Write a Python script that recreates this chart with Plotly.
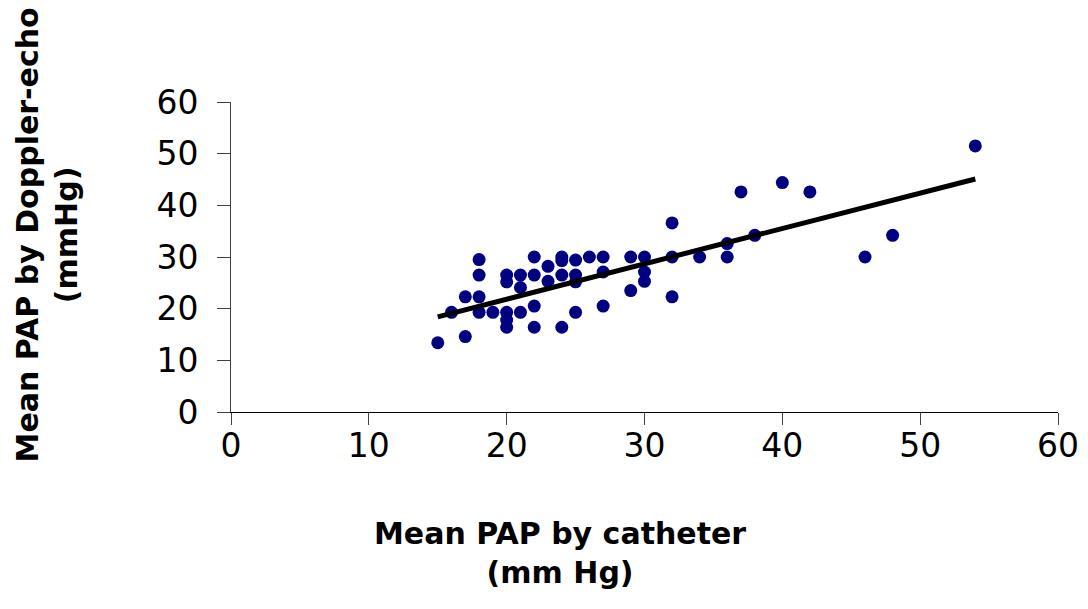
import plotly.graph_objects as go

catheter = [15, 16, 17, 17, 18, 18, 18, 18, 19, 20, 20, 20, 20, 20, 21, 21, 21,
            22, 22, 22, 22, 23, 23, 24, 24, 24, 24, 25, 25, 25, 25, 26, 27, 27, 27,
            29, 29, 30, 30, 30, 32, 32, 32, 34, 36, 36, 37, 38, 40, 42, 46, 48, 54]
doppler = [13.4, 19.3, 14.6, 22.3, 29.5, 26.5, 22.3, 19.3, 19.3, 26.5, 25.2, 19.3, 17.8, 16.4, 26.5, 24.1, 19.3,
           30.0, 26.5, 20.5, 16.4, 28.2, 25.3, 30.0, 29.3, 26.5, 16.4, 29.4, 26.5, 25.2, 19.3, 30.0, 30.0, 27.1, 20.5,
           30.0, 23.5, 30.0, 27.1, 25.3, 36.6, 30.0, 22.3, 30.0, 32.6, 30.0, 42.6, 34.2, 44.4, 42.6, 30.0, 34.2, 51.5]

trend_x = [15, 54]
trend_y = [18.4, 45.1]

x_ticks = [0, 10, 20, 30, 40, 50, 60]
y_ticks = [0, 10, 20, 30, 40, 50, 60]

x_title = "Mean PAP by catheter<br>(mm Hg)"
y_title = "Mean PAP by Doppler-echo<br>(mmHg)"

FONT = "DejaVu Sans"

fig = go.Figure()
fig.add_trace(go.Scatter(
    x=catheter, y=doppler, mode="markers",
    marker=dict(size=13, color="#000080", line=dict(width=0)),
    showlegend=False, cliponaxis=False))
fig.add_trace(go.Scatter(
    x=trend_x, y=trend_y, mode="lines",
    line=dict(color="black", width=5),
    showlegend=False))

fig.update_layout(
    width=1088, height=609,
    margin=dict(l=223, r=38, t=94, b=205, autoexpand=False),
    paper_bgcolor="white", plot_bgcolor="white",
    font=dict(family=FONT, size=30, color="black"),
    xaxis=dict(range=[0, 60], tickvals=x_ticks, ticks="outside", ticklen=12,
               tickcolor="#404040", tickwidth=1, showline=True, linecolor="black",
               linewidth=1, showgrid=False, zeroline=False,
               tickfont=dict(family=FONT, size=33, color="black"),
               ticklabelstandoff=-8),
    yaxis=dict(range=[0, 60], tickvals=y_ticks, ticks="outside", ticklen=13,
               tickcolor="#404040", tickwidth=1, showline=True, linecolor="#404040",
               linewidth=1, showgrid=False, zeroline=False,
               tickfont=dict(family=FONT, size=33, color="black"),
               ticklabelstandoff=12),
    annotations=[
        dict(text="<b>" + x_title.replace("<br>", "</b><br><b>") + "</b>",
             xref="paper", yref="paper", x=0.398, y=-0.455,
             xanchor="center", yanchor="middle", showarrow=False,
             font=dict(family=FONT, size=30, color="black")),
        dict(text="<b>" + y_title.replace("<br>", "</b><br><b>") + "</b>",
             xref="paper", yref="paper", x=-0.222, y=0.571,
             xanchor="center", yanchor="middle", showarrow=False, textangle=-90,
             font=dict(family=FONT, size=30, color="black")),
    ],
)

fig.write_html("out.html")
